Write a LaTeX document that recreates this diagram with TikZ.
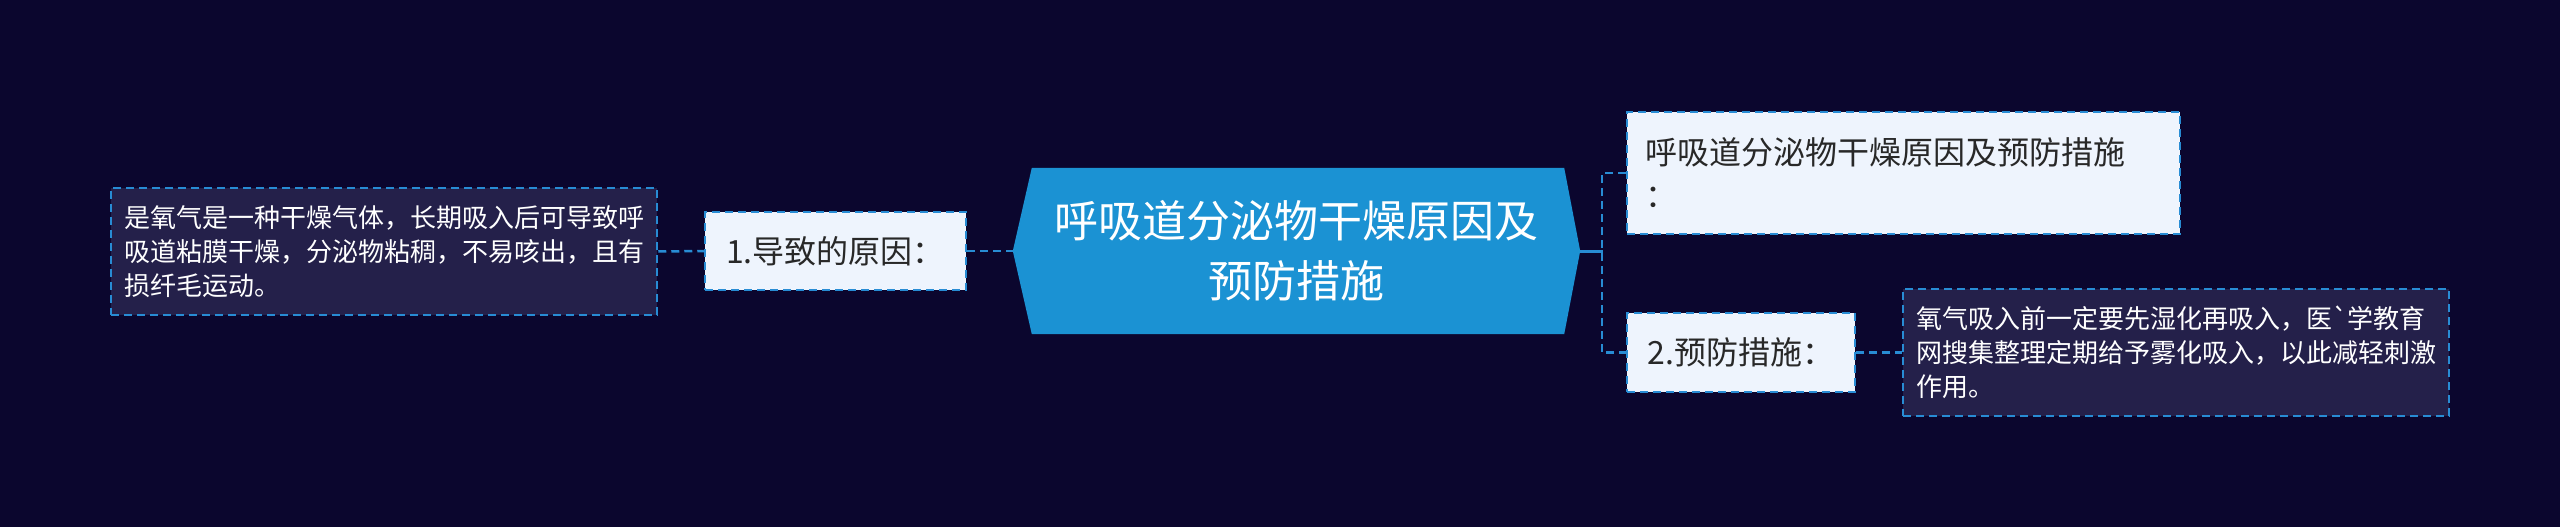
\documentclass[tikz,border=0pt]{standalone}
\usepackage{fontspec}
\setmainfont{Noto Sans CJK SC}
\newfontfamily\nomapfont{Noto Sans CJK SC}
\usetikzlibrary{backgrounds}
\definecolor{bgcol}{RGB}{11,6,46}
\definecolor{darkbox}{RGB}{36,32,74}
\definecolor{lightbox}{RGB}{238,244,253}
\definecolor{hubcol}{RGB}{27,146,211}
\definecolor{linecol}{RGB}{40,140,212}
\definecolor{txtdark}{RGB}{40,40,40}
\tikzset{
  dashline/.style={draw=linecol, line width=2.5pt, dash pattern=on 8pt off 5pt},
  solidline/.style={draw=linecol, line width=3pt},
  detailbox/.style={dashline, fill=darkbox, text=white, align=left, inner sep=0pt,
    font=\fontsize{26}{34}\selectfont, minimum width=546pt, minimum height=127pt},
  labelbox/.style={dashline, fill=lightbox, text=txtdark, align=left, inner sep=0pt,
    font=\fontsize{32}{43}\selectfont},
  hubtext/.style={text=white, align=center, inner sep=0pt,
    font=\fontsize{44}{60}\selectfont, minimum width=567pt, minimum height=166pt}
}
\begin{document}
\begin{tikzpicture}[x=1pt,y=-1pt]
\useasboundingbox (0,0) rectangle (2560,527);

\node[hubtext] (hub) at (1296.5,251) {呼吸道分泌物干燥原因及\\预防措施};
\begin{pgfonlayer}{background}
\fill[bgcol] (0,0) rectangle (2560,527);
\fill[hubcol] (hub.west) -- ([xshift=19pt]hub.north west) -- ([xshift=-16pt]hub.north east)
  -- (hub.east) -- ([xshift=-16pt]hub.south east) -- ([xshift=19pt]hub.south west) -- cycle;
\end{pgfonlayer}

\node[detailbox] (cause) at (384,251.5) {是氧气是一种干燥气体，长期吸入后可导致呼\\吸道粘膜干燥，分泌物粘稠，不易咳出，且有\\损纤毛运动。};
\node[labelbox, minimum width=261pt, minimum height=78pt] (c1) at (835.5,251) {1.导致的原因：};

\node[labelbox, text width=517pt, inner xsep=18pt, minimum height=122pt] (title) at (1903.5,173) {呼吸道分泌物干燥原因及预防措施\\：};
\node[labelbox, minimum width=228pt, minimum height=79pt] (c2) at (1741,352.5) {2.预防措施：};
\node[detailbox] (prev) at (2176,352.5) {氧气吸入前一定要先湿化再吸入，医{\nomapfont`}学教育\\网搜集整理定期给予雾化吸入，以此减轻刺激\\作用。};

\coordinate (fork) at (1603,251);
\draw[dashline] (cause.east) -- (c1.west);
\draw[dashline] (c1.east) -- (hub.west);
\draw[solidline] (hub.east) -- (fork);
\draw[dashline] (title.west) -- ++(-24pt,0) |- (c2.west);
\draw[dashline] (c2.east) -- (prev.west);
\end{tikzpicture}
\end{document}
